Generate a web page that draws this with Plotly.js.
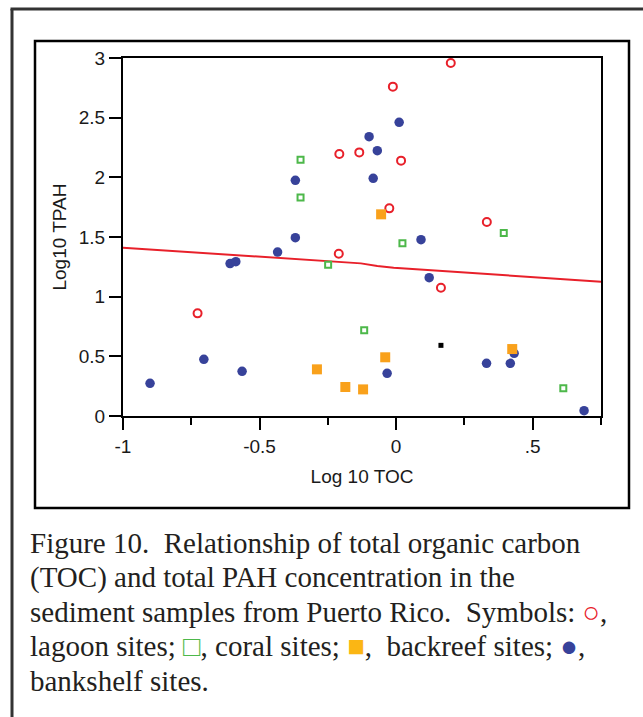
<!DOCTYPE html>
<html>
<head>
<meta charset="utf-8">
<script src="https://cdn.plot.ly/plotly-3.0.1.min.js"></script>
<style>html,body{margin:0;padding:0;background:#fff}#chart{width:643px;height:717px}</style>
</head>
<body>
<div id="chart"></div>
<script>
// ---- data ----
var lagoonX = [0.200, -0.012, -0.208, -0.135, 0.018, -0.025, 0.332, -0.210, 0.164, -0.727];
var lagoonY = [2.958, 2.760, 2.196, 2.209, 2.140, 1.740, 1.626, 1.360, 1.075, 0.860];

var coralX = [-0.350, -0.350, 0.023, 0.394, -0.249, -0.117, 0.612];
var coralY = [2.148, 1.832, 1.447, 1.534, 1.268, 0.718, 0.232];

var backreefX = [-0.055, -0.290, -0.186, -0.121, -0.040, 0.425];
var backreefY = [1.690, 0.391, 0.243, 0.223, 0.492, 0.561];

var otherX = [0.164];
var otherY = [0.592];

var bankshelfX = [0.011, -0.099, -0.069, -0.084, -0.369, -0.369, 0.091, -0.434, -0.608, -0.587,
                  0.121, -0.704, -0.564, -0.901, -0.033, 0.331, 0.418, 0.432, 0.688];
var bankshelfY = [2.461, 2.341, 2.223, 1.992, 1.975, 1.494, 1.478, 1.374, 1.277, 1.293,
                  1.159, 0.475, 0.374, 0.274, 0.358, 0.441, 0.441, 0.525, 0.045];

var fitX = [-1.0, -0.5, -0.129, -0.069, -0.009, 0.75];
var fitY = [1.410, 1.335, 1.279, 1.257, 1.243, 1.125];

var xTickVals = [-1, -0.5, 0, 0.5];
var xTickText = ["-1", "-0.5", "0", ".5"];
var xMinorVals = [-0.75, -0.25, 0.25, 0.75];
var yTickVals = [0, 0.5, 1, 1.5, 2, 2.5, 3];
var yTickText = ["0", "0.5", "1", "1.5", "2", "2.5", "3"];

var captionLines = [
  "Figure 10.&nbsp; Relationship of total organic carbon",
  "(TOC) and total PAH concentration in the",
  "sediment samples from Puerto Rico.&nbsp; Symbols: <b><span style='color:#e8202a'>○</span></b>,",
  "lagoon sites; <b><span style='color:#4db84a'>□</span></b>, coral sites; <span style='color:#fbb614'>■</span>,&nbsp; backreef sites; <span style='color:#37429a'>●</span>,",
  "bankshelf sites."
];

// ---- layout helpers (pixel -> paper) ----
var W = 643, H = 717;
var M = {l: 123, r: 42, t: 58, b: 301};
var PW = W - M.l - M.r, PH = H - M.t - M.b;
function px(x) { return (x - M.l) / PW; }
function py(y) { return (H - M.b - y) / PH; }

var sansFam = "'Liberation Sans', Arial, sans-serif";
var axisFont = {family: sansFam, size: 19, color: '#1a1a1a'};
var titleFont = {family: sansFam, size: 19, color: '#1a1a1a'};
var serif = {family: "'Liberation Serif', 'Times New Roman', serif", size: 29, color: '#231f20'};

var traces = [
  {x: fitX, y: fitY, mode: 'lines', line: {color: '#e8202a', width: 2}, hoverinfo: 'skip', showlegend: false},
  {x: bankshelfX, y: bankshelfY, mode: 'markers', name: 'bankshelf',
   marker: {symbol: 'circle', size: 9.5, color: '#37429a'}},
  {x: lagoonX, y: lagoonY, mode: 'markers', name: 'lagoon',
   marker: {symbol: 'circle-open', size: 8, color: '#e8202a', line: {width: 2}}},
  {x: coralX, y: coralY, mode: 'markers', name: 'coral',
   marker: {symbol: 'square-open', size: 6, color: '#4db84a', line: {width: 2}}},
  {x: backreefX, y: backreefY, mode: 'markers', name: 'backreef',
   marker: {symbol: 'square', size: 10, color: '#f9a11b'}},
  {x: otherX, y: otherY, mode: 'markers', name: 'other',
   marker: {symbol: 'square', size: 5, color: '#000'}}
];

var annotations = captionLines.map(function (t, i) {
  return {text: t, xref: 'paper', yref: 'paper', x: px(28), y: py(542.5 + i * 34.6),
          xanchor: 'left', yanchor: 'middle', showarrow: false, align: 'left', font: serif};
});

var shapes = [
  {type: 'line', xref: 'paper', yref: 'paper', x0: px(12), x1: px(12), y0: py(9), y1: py(730), line: {color: '#333', width: 3}},
  {type: 'line', xref: 'paper', yref: 'paper', x0: px(10.5), x1: px(660), y0: py(9), y1: py(9), line: {color: '#333', width: 3}},
  {type: 'rect', xref: 'paper', yref: 'paper', x0: px(35), x1: px(629), y0: py(41), y1: py(508), line: {color: '#000', width: 2.5}}
];

var layout = {
  width: W, height: H,
  margin: M,
  paper_bgcolor: '#fff', plot_bgcolor: '#fff',
  showlegend: false,
  xaxis: {
    range: [-1, 0.75], showgrid: false, zeroline: false,
    showline: true, mirror: true, linecolor: '#000', linewidth: 2,
    tickmode: 'array', tickvals: xTickVals, ticktext: xTickText,
    ticks: 'outside', ticklen: 12, tickwidth: 2, tickcolor: '#000',
    minor: {tickmode: 'array', tickvals: xMinorVals, ticks: 'outside', ticklen: 7, tickwidth: 2, tickcolor: '#000', showgrid: false},
    tickfont: axisFont,
    title: {text: 'Log 10 TOC', font: titleFont, standoff: 14}
  },
  yaxis: {
    range: [0, 3], showgrid: false, zeroline: false,
    showline: true, mirror: true, linecolor: '#000', linewidth: 2,
    tickmode: 'array', tickvals: yTickVals, ticktext: yTickText,
    ticks: 'outside', ticklen: 12, tickwidth: 2, tickcolor: '#000',
    tickfont: axisFont,
    title: {text: 'Log10 TPAH', font: titleFont, standoff: 7}
  },
  shapes: shapes,
  annotations: annotations
};

Plotly.newPlot('chart', traces, layout, {displayModeBar: false, staticPlot: true});
</script>
</body>
</html>
